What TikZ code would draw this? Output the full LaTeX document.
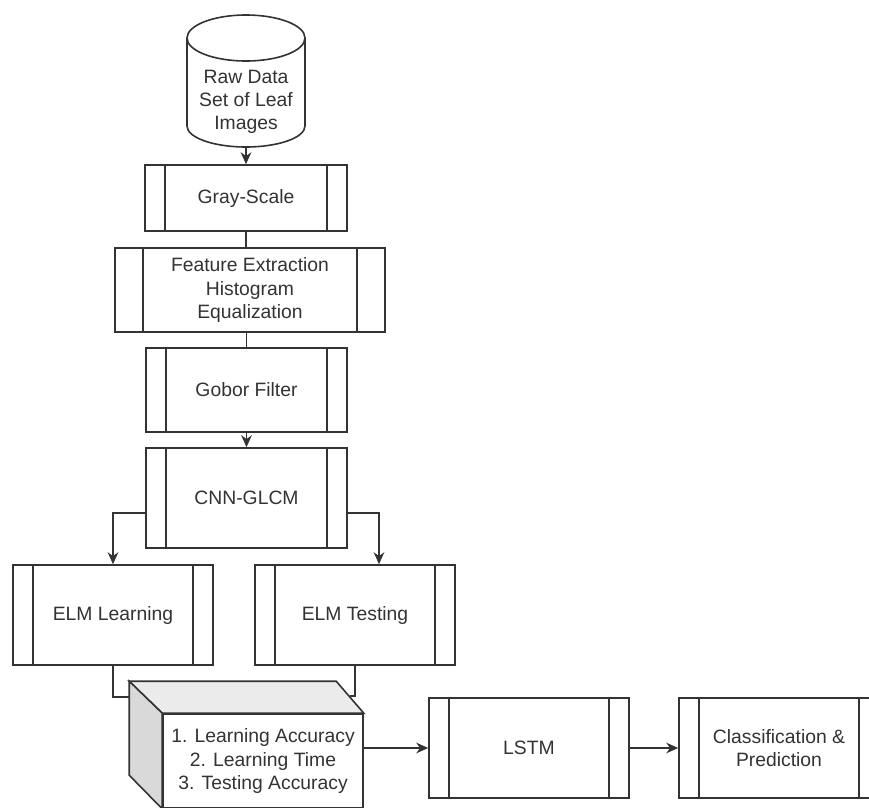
\documentclass[tikz,border=0pt]{standalone}
\usepackage{fontspec}
\setmainfont{Liberation Sans}
\usetikzlibrary{arrows.meta}
\begin{document}
\begin{tikzpicture}[x=0.75pt, y=-0.75pt, line width=1.2pt, color=black!80,
  font=\fontsize{14.5}{17.5}\selectfont,
  proc/.style={draw, rectangle, inner sep=0pt, align=center, fill=white,
    path picture={
      \draw[line width=1.2pt] ([xshift=#1]path picture bounding box.north west) -- ([xshift=#1]path picture bounding box.south west);
      \draw[line width=1.2pt] ([xshift=-#1]path picture bounding box.north east) -- ([xshift=-#1]path picture bounding box.south east);}},
  proc/.default=15pt,
  arr/.style={-{Stealth[length=9pt,width=8pt]}}]
\clip (0,0) rectangle (869,808);
% leaf image database
\draw[fill=white] (187,38) -- (187,126) arc[start angle=180, end angle=360, x radius=44.25pt, y radius=15.75pt] -- (305,38);
\draw (246,38) ellipse [x radius=44.25pt, y radius=17.25pt];
\node[align=center] (data) at (246,102) {Raw Data\\Set of Leaf\\Images};
\coordinate (dbase) at (246,147);
% processing steps
\node[proc, minimum width=151.5pt, minimum height=49.5pt] (gray) at (246,198) {Gray-Scale};
\node[proc=21pt, minimum width=202.5pt, minimum height=63pt] (feat) at (250,290) {Feature Extraction\\Histogram\\Equalization};
\node[proc, minimum width=150.75pt, minimum height=63pt] (gobor) at (246.5,390) {Gobor Filter};
\node[proc, minimum width=150.75pt, minimum height=75pt] (cnn) at (246.5,498) {CNN-GLCM};
\node[proc, minimum width=150pt, minimum height=75pt] (learn) at (113,615) {ELM Learning};
\node[proc, minimum width=150pt, minimum height=75pt] (test) at (355,615) {ELM Testing};
\node[proc, minimum width=150pt, minimum height=75pt] (lstm) at (529,748) {LSTM};
\node[proc, minimum width=150pt, minimum height=75pt] (cls) at (779,748) {Classification \&\\Prediction};
% results cube
\node[draw, fill=white, inner sep=0pt, align=center, minimum width=150pt, minimum height=70.5pt] (acc) at (263,761) {1. Learning Accuracy\\2. Learning Time\\3. Testing Accuracy};
\draw[fill=black!8] (acc.north west) -- ++(-33,-32) -- ++(207,0) -- (acc.north east) -- cycle;
\draw[fill=black!15] (acc.north west) -- ++(-33,-32) -- ++(0,94) -- (acc.south west) -- cycle;
\coordinate (accl) at ([shift={(-33,-16)}]acc.north west);
\coordinate (accr) at ([shift={(-14,-17)}]acc.north east);
% connectors
\draw[arr] (dbase) -- (gray);
\draw (gray.south) -- (gray.south |- feat.north);
\draw (gobor.north |- feat.south) -- (gobor.north);
\draw[arr] (gobor) -- (cnn);
\draw[arr] ([yshift=-11.25pt]cnn.west) -| (learn.north);
\draw[arr] ([yshift=-11.25pt]cnn.east) -| ([xshift=18pt]test.north);
\draw (learn.south) |- (accl);
\draw (test.south) |- (accr);
\draw[arr] (acc.east |- lstm.west) -- (lstm.west);
\draw[arr] (lstm) -- (cls);
\end{tikzpicture}
\end{document}
